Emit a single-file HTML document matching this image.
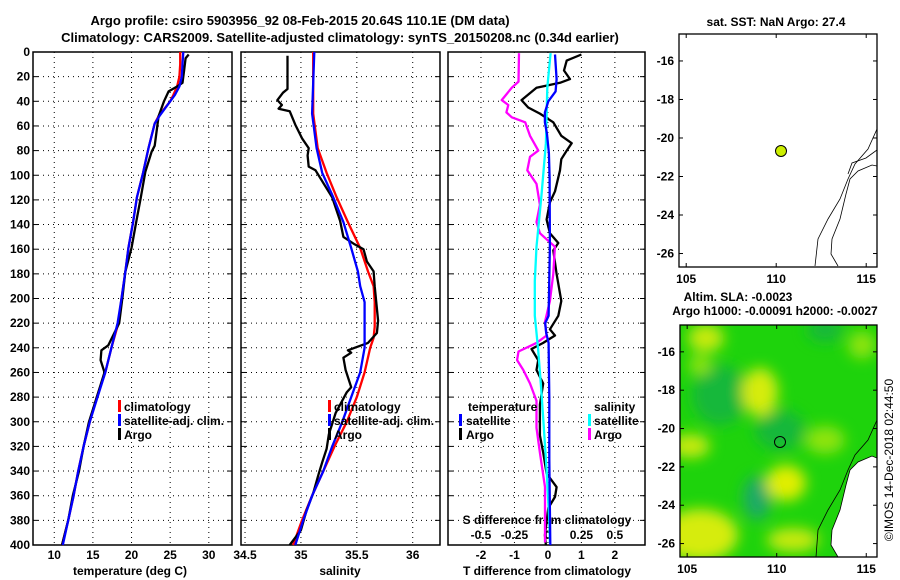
<!DOCTYPE html>
<html><head><meta charset="utf-8">
<style>
html,body{margin:0;padding:0;background:#fff;}
svg{display:block;font-family:"Liberation Sans",sans-serif;font-weight:bold;}
text{font-size:12px;fill:#000;}
</style></head>
<body>
<svg id="chart" width="900" height="580" viewBox="0 0 900 580" xmlns="http://www.w3.org/2000/svg">
<defs>
<filter id="blur" x="-50%" y="-50%" width="200%" height="200%"><feGaussianBlur stdDeviation="7"/></filter>
<clipPath id="map2clip"><rect x="680" y="325" width="197" height="232"/></clipPath>
<clipPath id="map1clip"><rect x="679" y="34" width="198" height="233"/></clipPath>
</defs>
<text x="300" y="25" text-anchor="middle" style="font-size:13px">Argo profile: csiro 5903956_92 08-Feb-2015 20.64S 110.1E (DM data)</text>
<text x="340" y="42" text-anchor="middle" style="font-size:13px">Climatology: CARS2009. Satellite-adjusted climatology: synTS_20150208.nc (0.34d earlier)</text>

<g id="panels"></g>

<!-- legends -->
<g>
<rect x="118" y="400" width="3" height="12" fill="#f00"/><text x="124" y="411">climatology</text>
<rect x="118" y="414" width="3" height="12" fill="#00f"/><text x="124" y="425">satellite-adj. clim.</text>
<rect x="118" y="428" width="3" height="12" fill="#000"/><text x="124" y="439">Argo</text>
</g>
<g>
<rect x="328" y="400" width="3" height="12" fill="#f00"/><text x="334" y="411">climatology</text>
<rect x="328" y="414" width="3" height="12" fill="#00f"/><text x="334" y="425">satellite-adj. clim.</text>
<rect x="328" y="428" width="3" height="12" fill="#000"/><text x="334" y="439">Argo</text>
</g>
<g>
<text x="468" y="411">temperature</text>
<rect x="459" y="414" width="3" height="12" fill="#00f"/><text x="466" y="425">satellite</text>
<rect x="459" y="428" width="3" height="12" fill="#000"/><text x="466" y="439">Argo</text>
<text x="594" y="411">salinity</text>
<rect x="588" y="414" width="3" height="12" fill="#0ff"/><text x="594" y="425">satellite</text>
<rect x="588" y="428" width="3" height="12" fill="#f0f"/><text x="594" y="439">Argo</text>
</g>

<!-- map 1 -->
<g>
<text x="776" y="26" text-anchor="middle">sat. SST: NaN Argo: 27.4</text>
<g clip-path="url(#map1clip)" fill="none" stroke="#000" stroke-width="0.8">
<polyline points="877,129 868,149 855,164 848,179 840,199 828,219 818,239 815,266"/>
<polyline points="877,166 872,165 858,171 850,179 846,194 840,219 832,239 831,254 838,266"/>
<polyline points="877,150 866,158 852,163 848,174" />
</g>
<rect x="679" y="34" width="198" height="233" fill="none" stroke="#000" stroke-width="1.3"/>
<circle cx="781" cy="151" r="5.5" fill="#ccee00" stroke="#000" stroke-width="1"/>
<g id="map1ticks"></g>
</g>

<!-- map 2 -->
<g>
<text x="738" y="301" text-anchor="middle">Altim. SLA: -0.0023</text>
<text x="775" y="315" text-anchor="middle">Argo h1000: -0.00091 h2000: -0.0027</text>
<g clip-path="url(#map2clip)">
<rect x="680" y="325" width="197" height="232" fill="#1ed30c"/>
<g filter="url(#blur)">
<ellipse cx="720" cy="395" rx="28" ry="30" fill="#18b83a"/>
<ellipse cx="757" cy="498" rx="14" ry="22" fill="#1aaa66"/>
<ellipse cx="825" cy="330" rx="18" ry="12" fill="#18b83a"/>
<ellipse cx="780" cy="430" rx="25" ry="20" fill="#18b83a"/>
<ellipse cx="700" cy="535" rx="38" ry="26" fill="#d6ec10"/>
<ellipse cx="760" cy="392" rx="18" ry="24" fill="#d6ec10"/>
<ellipse cx="786" cy="483" rx="20" ry="18" fill="#e0ee00"/>
<ellipse cx="690" cy="446" rx="20" ry="12" fill="#c8ea10"/>
<ellipse cx="706" cy="338" rx="18" ry="14" fill="#c8ea10"/>
<ellipse cx="793" cy="540" rx="26" ry="12" fill="#c8ea10"/>
<ellipse cx="825" cy="440" rx="20" ry="14" fill="#8ee40a"/>
<ellipse cx="862" cy="345" rx="14" ry="14" fill="#8ee40a"/>
<ellipse cx="700" cy="365" rx="12" ry="10" fill="#8ee40a"/>
</g>
<polygon points="877,458 872,456 858,462 850,470 846,485 840,510 832,530 831,545 838,557 877,557" fill="#fff" stroke="#000" stroke-width="0.8"/>
<polyline points="877,420 868,440 855,455 848,470 840,490 828,510 818,530 816,557" fill="none" stroke="#000" stroke-width="0.8"/>
</g>
<rect x="680" y="325" width="197" height="232" fill="none" stroke="#000" stroke-width="1.3"/>
<circle cx="780" cy="442" r="5.5" fill="none" stroke="#000" stroke-width="1"/>
<g id="map2ticks"></g>
</g>
<text transform="translate(893,460) rotate(-90)" text-anchor="middle" style="font-weight:normal;font-size:12px">©IMOS 14-Dec-2018 02:44:50</text>
</svg>

<script>
// ---------- data ----------
const depthTicks = [0,20,40,60,80,100,120,140,160,180,200,220,240,260,280,300,320,340,360,380,400];
const tTicks = [10,15,20,25,30];
const sTicks = [34.5,35,35.5,36];
const sTickLabels = ["34.5","35","35.5","36"];
const dTicks = [-2,-1,0,1,2];
const sdTicks = [-0.5,-0.25,0,0.25,0.5];
const sdTickLabels = ["-0.5","-0.25","0","0.25","0.5"];

const tDepth = [0,10,20,28,35,40,52,58,78,98,118,138,159,178,200,220,240,260,280,300,320,340,360,380,400];
const tClim = [26.3,26.3,26.2,25.9,25.4,25.0,23.5,23.0,22.2,21.5,20.7,20.2,19.6,19.2,18.7,18.3,17.4,16.6,15.5,14.6,13.8,13.1,12.5,11.8,11.0];
const tSat = [26.7,26.6,26.5,26.2,25.6,25.0,23.6,23.0,22.2,21.5,20.7,20.2,19.6,19.2,18.7,18.2,17.4,16.6,15.6,14.6,13.8,13.1,12.5,11.8,11.1];
const aTDepth = [2,5,15,25,28,32,40,52,76,81,97,118,138,159,178,200,220,238,242,250,260,280,300,320,340,360,380,400];
const aT = [27.4,27.0,26.8,26.6,25.9,24.8,24.2,23.5,23.0,22.6,21.8,21.2,20.6,20.0,19.2,18.8,18.4,17.0,16.1,16.0,16.5,15.5,14.5,13.8,13.2,12.4,11.8,11.0];

const sDepth = [0,50,78,98,118,138,159,178,190,203,223,232,240,260,280,300,320,340,360,380,400];
const sClim = [35.11,35.11,35.15,35.23,35.32,35.42,35.53,35.60,35.65,35.66,35.66,35.65,35.62,35.57,35.50,35.41,35.30,35.20,35.10,35.01,34.93];
const sSat = [35.12,35.10,35.14,35.19,35.29,35.38,35.45,35.51,35.53,35.57,35.57,35.57,35.57,35.53,35.45,35.37,35.28,35.20,35.10,35.02,34.95];
const aSDepth = [3,30,33,39,43,46,48,59,70,78,84,93,96,118,137,150,156,160,170,178,190,218,228,236,240,242,244,248,258,272,276,293,310,322,333,342,358,372,388,400];
const aS = [34.88,34.88,34.84,34.79,34.83,34.80,34.90,34.95,35.01,35.07,35.06,35.07,35.13,35.28,35.35,35.38,35.48,35.56,35.59,35.65,35.66,35.69,35.68,35.60,35.48,35.42,35.45,35.38,35.40,35.45,35.41,35.31,35.25,35.23,35.19,35.16,35.11,35.05,35.00,34.90];

const dTSatDepth = [2,22,32,40,49,57,66,82,102,158,214,220,228,236,280,330,400];
const dTSat = [0.21,0.26,0.23,0.01,-0.09,-0.09,-0.03,0.03,0.05,0.06,0.02,-0.08,-0.05,0.02,0.04,0.04,0.07];
const dTArgoDepth = [2,7,15,22,25,29,39,45,50,57,68,74,80,87,96,113,122,136,147,155,161,180,202,214,225,230,236,241,250,258,269,286,311,325,342,353,361,370,381,392,400];
const dTArgo = [1.0,0.56,0.48,0.66,0.36,-0.34,-0.79,-0.59,-0.24,0.16,0.40,0.71,0.56,0.40,0.36,0.21,0.06,-0.04,0.06,0.31,0.16,0.26,0.40,0.31,0.06,0.21,-0.14,-0.49,-0.29,-0.34,-0.14,-0.24,-0.24,-0.14,-0.04,0.26,0.21,0.01,-0.04,-0.09,-0.06];
const dSSatDepth = [1,29,74,116,158,186,214,241,269,297,339,381,398];
const dSSat = [0.02,-0.005,-0.015,-0.048,-0.085,-0.098,-0.098,-0.073,-0.053,-0.035,-0.01,0.01,0.015];
const dSArgoDepth = [1,24,29,39,43,49,53,57,68,80,85,96,107,124,138,147,152,158,180,202,219,230,236,243,250,258,269,283,305,325,353,381,398];
const dSArgo = [-0.216,-0.22,-0.27,-0.345,-0.296,-0.31,-0.27,-0.17,-0.134,-0.072,-0.134,-0.154,-0.085,-0.06,-0.085,-0.06,-0.01,0.052,0.04,0.015,-0.022,-0.01,-0.085,-0.22,-0.23,-0.184,-0.134,-0.085,-0.085,-0.06,-0.022,-0.022,-0.022];

const lonTicks = [105,110,115];
const latTicks = [-16,-18,-20,-22,-24,-26];

// ---------- geometry ----------
const NS = "http://www.w3.org/2000/svg";
const TOP = 52, BOT = 545;
const yD = d => TOP + (BOT - TOP) * d / 400;
const panels = [
  {x0:33, x1:232, lo:7.25, hi:33},
  {x0:241, x1:440, lo:34.464, hi:36.244},
  {x0:448, x1:645, lo:-2.985, hi:2.9}
];
const sx = (p, v) => p.x0 + (p.x1 - p.x0) * (v - p.lo) / (p.hi - p.lo);
const root = document.getElementById('panels');

function make(tag, attrs, parent) {
  const el = document.createElementNS(NS, tag);
  for (const k in attrs) el.setAttribute(k, attrs[k]);
  parent.appendChild(el);
  return el;
}
function curve(p, depths, vals, scale, color, name) {
  const pts = depths.map((d, i) => sx(p, vals[i] * scale).toFixed(1) + "," + yD(d).toFixed(1)).join(" ");
  const el = make('polyline', {points: pts, fill: 'none', stroke: color, 'stroke-width': 2.3, 'stroke-linejoin': 'round'}, root);
  
  
}

panels.forEach((p, pi) => {
  const g = make('g', {}, root);
  
  
  // horizontal grid + ticks
  depthTicks.forEach(d => {
    if (d > 0 && d < 400) {
      const gl = make('line', {x1: p.x0, x2: p.x1, y1: yD(d), y2: yD(d), stroke: '#000', 'stroke-width': 1, 'stroke-dasharray': '1,4'}, g);
      
      
    }
    make('line', {x1: p.x0, x2: p.x0 + 5, y1: yD(d), y2: yD(d), stroke: '#000'}, g);
    make('line', {x1: p.x1, x2: p.x1 - 5, y1: yD(d), y2: yD(d), stroke: '#000'}, g);
  });
  const xt = pi === 0 ? tTicks : pi === 1 ? sTicks : dTicks;
  xt.forEach((v, i) => {
    const x = sx(p, v);
    const gl = make('line', {x1: x, x2: x, y1: TOP, y2: BOT, stroke: '#000', 'stroke-width': 1, 'stroke-dasharray': '1,4'}, g);
    
    
    const lab = make('text', {x: x, y: 559, 'text-anchor': 'middle'}, g);
    lab.textContent = pi === 1 ? sTickLabels[i] : String(v);
    
    
  });
  const box = make('rect', {x: p.x0, y: TOP, width: p.x1 - p.x0, height: BOT - TOP, fill: 'none', stroke: '#000', 'stroke-width': 1.5}, g);
  
  
});

// y tick labels
depthTicks.forEach(d => {
  const t = make('text', {x: 30, y: yD(d) + 4, 'text-anchor': 'end'}, root);
  t.textContent = String(d);
  
  
});

// axis titles
[["temperature (deg C)", 130, 'temperature-axis-title'], ["salinity", 340, 'salinity-axis-title'], ["T difference from climatology", 547, 'difference-axis-title']].forEach(a => {
  const t = make('text', {x: a[1], y: 575, 'text-anchor': 'middle'}, root);
  t.textContent = a[0];
  
  
});
const sdt = make('text', {x: 547, y: 524, 'text-anchor': 'middle'}, root);
sdt.textContent = "S difference from climatology";


sdTicks.forEach((v, i) => {
  const t = make('text', {x: sx(panels[2], v * 4), y: 539, 'text-anchor': 'middle'}, root);
  t.textContent = sdTickLabels[i];
  
  
});

// curves
curve(panels[0], tDepth, tClim, 1, '#f00', 'temperature-climatology-line');
curve(panels[0], aTDepth, aT, 1, '#000', 'temperature-argo-line');
curve(panels[0], tDepth, tSat, 1, '#00f', 'temperature-satellite-line');
curve(panels[1], sDepth, sClim, 1, '#f00', 'salinity-climatology-line');
curve(panels[1], aSDepth, aS, 1, '#000', 'salinity-argo-line');
curve(panels[1], sDepth, sSat, 1, '#00f', 'salinity-satellite-line');
curve(panels[2], dTArgoDepth, dTArgo, 1, '#000', 'temperature-argo-difference-line');
curve(panels[2], dSArgoDepth, dSArgo, 4, '#f0f', 'salinity-argo-difference-line');
curve(panels[2], dSSatDepth, dSSat, 4, '#0ff', 'salinity-satellite-difference-line');
curve(panels[2], dTSatDepth, dTSat, 1, '#00f', 'temperature-satellite-difference-line');

// map ticks
function mapTicks(id, x0, x1, y0, y1, lon0, lon1, lat0, lat1) {
  const g = document.getElementById(id);
  const mx = v => x0 + (x1 - x0) * (v - lon0) / (lon1 - lon0);
  const my = v => y0 + (y1 - y0) * (v - lat0) / (lat1 - lat0);
  lonTicks.forEach(v => {
    make('line', {x1: mx(v), x2: mx(v), y1: y0, y2: y0 + 4, stroke: '#000'}, g);
    make('line', {x1: mx(v), x2: mx(v), y1: y1, y2: y1 - 4, stroke: '#000'}, g);
    const t = make('text', {x: mx(v), y: y1 + 16, 'text-anchor': 'middle'}, g);
    t.textContent = String(v);
    
    
  });
  latTicks.forEach(v => {
    make('line', {x1: x0, x2: x0 + 4, y1: my(v), y2: my(v), stroke: '#000'}, g);
    make('line', {x1: x1, x2: x1 - 4, y1: my(v), y2: my(v), stroke: '#000'}, g);
    const t = make('text', {x: x0 - 5, y: my(v) + 4, 'text-anchor': 'end'}, g);
    t.textContent = String(v);
    
    
  });
}
mapTicks('map1ticks', 679, 877, 34, 267, 104.6, 115.6, -14.6, -26.7);
mapTicks('map2ticks', 680, 877, 325, 557, 104.6, 115.6, -14.6, -26.7);
</script>
</body></html>
